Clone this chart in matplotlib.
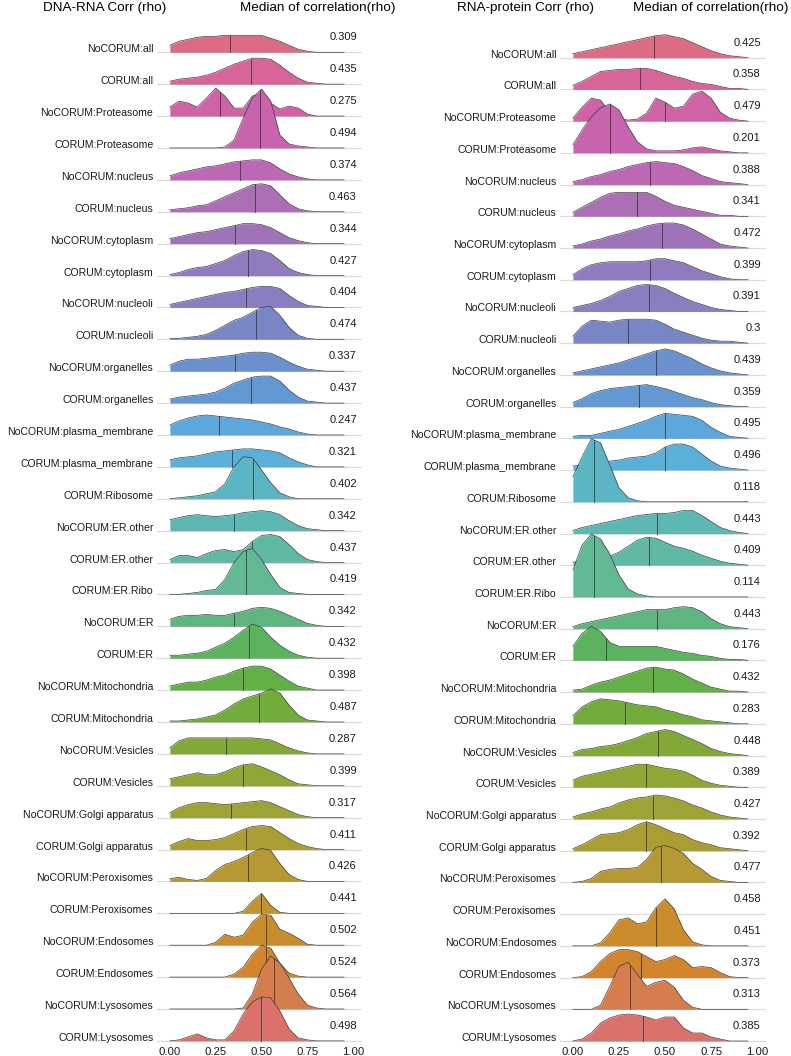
import numpy as np
import matplotlib.pyplot as plt

plt.rcParams['font.family'] = ['Liberation Sans', 'DejaVu Sans']

rows = ['NoCORUM:all', 'CORUM:all', 'NoCORUM:Proteasome', 'CORUM:Proteasome',
        'NoCORUM:nucleus', 'CORUM:nucleus', 'NoCORUM:cytoplasm', 'CORUM:cytoplasm',
        'NoCORUM:nucleoli', 'CORUM:nucleoli', 'NoCORUM:organelles', 'CORUM:organelles',
        'NoCORUM:plasma_membrane', 'CORUM:plasma_membrane', 'CORUM:Ribosome',
        'NoCORUM:ER.other', 'CORUM:ER.other', 'CORUM:ER.Ribo', 'NoCORUM:ER', 'CORUM:ER',
        'NoCORUM:Mitochondria', 'CORUM:Mitochondria', 'NoCORUM:Vesicles', 'CORUM:Vesicles',
        'NoCORUM:Golgi apparatus', 'CORUM:Golgi apparatus', 'NoCORUM:Peroxisomes',
        'CORUM:Peroxisomes', 'NoCORUM:Endosomes', 'CORUM:Endosomes',
        'NoCORUM:Lysosomes', 'CORUM:Lysosomes']

rho = np.round(np.arange(21) * 0.05, 2)

dna_rna_dens = [
    [7, 11, 13, 15, 16, 16, 17, 17, 17, 17, 17, 14, 11, 7, 3, 1],
    [3, 5, 6, 7, 9, 12, 16, 20, 23, 26, 26, 25, 19, 12, 6, 2, 1],
    [9, 15, 13, 9, 18, 28, 20, 8, 8, 20, 23, 13, 7, 10, 8, 2],
    [0, 0, 0, 0, 0, 0, 1, 8, 30, 50, 59, 47, 13, 4, 2, 1],
    [4, 7, 9, 11, 13, 14, 16, 18, 19, 20, 20, 17, 11, 6, 3, 1],
    [2, 3, 4, 6, 7, 11, 15, 19, 23, 27, 28, 26, 17, 8, 3, 1],
    [5, 7, 9, 11, 12, 14, 16, 18, 20, 20, 19, 16, 11, 6, 3, 1],
    [1, 3, 6, 8, 9, 12, 15, 20, 24, 26, 25, 22, 15, 7, 3, 1],
    [3, 5, 7, 9, 11, 13, 15, 16, 18, 20, 21, 21, 19, 12, 6, 2, 1],
    [1, 1, 2, 3, 5, 9, 14, 19, 22, 27, 32, 33, 24, 12, 4, 1],
    [6, 10, 12, 12, 13, 14, 15, 16, 18, 19, 19, 18, 14, 9, 5, 2, 1],
    [4, 6, 7, 8, 9, 11, 15, 20, 23, 26, 27, 27, 22, 13, 6, 2, 1],
    [10, 14, 17, 19, 20, 19, 18, 17, 16, 15, 13, 11, 8, 6, 3, 1],
    [7, 9, 10, 11, 13, 15, 16, 17, 18, 18, 17, 16, 14, 9, 5, 2],
    [0, 1, 2, 3, 5, 7, 15, 32, 42, 41, 29, 16, 6, 2],
    [11, 13, 15, 16, 15, 14, 15, 16, 18, 19, 20, 19, 16, 10, 5, 2, 1],
    [3, 7, 7, 5, 9, 12, 13, 11, 13, 21, 27, 28, 26, 18, 9, 3, 1],
    [0, 0, 1, 2, 4, 5, 15, 32, 43, 46, 35, 20, 7, 2, 1],
    [7, 10, 11, 11, 12, 11, 11, 13, 15, 18, 19, 18, 15, 11, 7, 3, 1],
    [3, 3, 4, 5, 7, 11, 15, 21, 28, 34, 31, 21, 13, 7, 3, 1],
    [4, 6, 8, 8, 10, 13, 15, 19, 22, 24, 24, 21, 15, 9, 4, 2],
    [1, 1, 2, 3, 5, 7, 12, 18, 23, 26, 29, 33, 29, 17, 7, 2, 1],
    [6, 13, 16, 16, 16, 16, 16, 16, 16, 16, 15, 14, 10, 6, 3, 1],
    [7, 9, 11, 13, 11, 11, 14, 18, 21, 22, 19, 15, 11, 6, 2, 1],
    [5, 10, 13, 15, 15, 14, 13, 14, 15, 16, 17, 15, 11, 7, 3, 1],
    [4, 8, 11, 9, 9, 10, 12, 16, 20, 23, 24, 23, 17, 11, 6, 3, 1],
    [3, 4, 2, 1, 3, 11, 17, 20, 24, 29, 33, 31, 18, 7, 2],
    [0, 0, 0, 0, 0, 0, 0, 0, 2, 12, 20, 8, 1],
    [0, 0, 0, 0, 0, 3, 11, 8, 10, 23, 31, 30, 16, 12, 7, 1],
    [0, 0, 0, 0, 0, 0, 0, 3, 10, 23, 32, 29, 14, 4, 1],
    [0, 0, 0, 0, 0, 0, 0, 0, 1, 15, 40, 53, 46, 31, 15, 4, 1],
    [0, 1, 4, 7, 3, 1, 1, 10, 27, 39, 44, 43, 30, 12, 3, 1],
]

rna_prot_dens = [
    [4, 6, 8, 10, 12, 14, 16, 18, 20, 22, 23, 21, 19, 15, 11, 7, 4, 2, 1],
    [4, 8, 13, 18, 19, 20, 20, 21, 21, 19, 16, 13, 11, 8, 6, 5, 3, 1, 1],
    [3, 14, 23, 21, 9, 3, 1, 2, 8, 23, 19, 13, 15, 27, 30, 23, 9, 3, 1],
    [8, 23, 36, 45, 49, 43, 26, 11, 4, 2, 2, 2, 3, 5, 6, 4, 2, 1],
    [3, 5, 8, 10, 13, 15, 18, 20, 22, 23, 22, 21, 18, 14, 9, 6, 3, 2, 1],
    [4, 9, 14, 19, 23, 24, 24, 24, 24, 20, 15, 11, 9, 7, 5, 3, 1, 1],
    [2, 4, 7, 9, 12, 14, 17, 19, 22, 24, 25, 25, 23, 19, 14, 9, 4, 2, 1],
    [5, 11, 15, 17, 18, 18, 18, 18, 19, 21, 21, 19, 17, 13, 9, 6, 3, 1],
    [4, 6, 8, 11, 15, 20, 23, 26, 27, 26, 23, 18, 14, 10, 7, 4, 2, 1],
    [7, 17, 23, 22, 21, 23, 24, 24, 24, 23, 19, 14, 11, 8, 5, 3, 2, 2, 1],
    [2, 4, 6, 8, 10, 12, 15, 18, 21, 24, 26, 24, 20, 16, 11, 7, 4, 2, 1],
    [4, 8, 13, 16, 18, 19, 20, 21, 22, 20, 18, 15, 12, 9, 7, 4, 2, 1],
    [2, 3, 3, 5, 7, 9, 12, 15, 18, 22, 25, 24, 23, 22, 18, 11, 6, 2, 1],
    [4, 5, 6, 7, 9, 10, 12, 13, 14, 17, 23, 26, 26, 23, 16, 9, 4, 2, 1],
    [25, 45, 63, 59, 37, 14, 4, 1],
    [3, 6, 8, 10, 12, 14, 16, 18, 19, 20, 20, 21, 23, 23, 18, 12, 6, 3, 1],
    [3, 4, 6, 7, 9, 13, 19, 25, 28, 27, 23, 19, 17, 14, 10, 7, 4, 2, 1],
    [27, 52, 63, 58, 43, 22, 8, 3, 1],
    [2, 5, 7, 9, 11, 13, 15, 17, 19, 19, 19, 21, 22, 21, 17, 10, 5, 2, 1],
    [14, 27, 34, 29, 18, 14, 14, 14, 14, 14, 12, 10, 8, 7, 5, 4, 2, 1, 1],
    [2, 3, 7, 10, 12, 15, 18, 21, 24, 25, 23, 22, 18, 13, 9, 5, 3, 1, 1],
    [8, 17, 22, 25, 24, 23, 21, 19, 18, 17, 14, 12, 9, 7, 4, 3, 2, 1],
    [3, 6, 7, 9, 10, 12, 15, 18, 22, 24, 26, 24, 20, 16, 12, 7, 4, 2, 1],
    [7, 11, 13, 15, 17, 19, 21, 23, 23, 21, 19, 18, 16, 12, 7, 4, 2, 1],
    [2, 5, 7, 10, 12, 16, 19, 21, 22, 24, 23, 21, 18, 14, 11, 7, 4, 2, 1],
    [2, 6, 11, 16, 17, 18, 21, 26, 29, 26, 22, 18, 16, 11, 8, 6, 3, 2, 1],
    [0, 1, 4, 11, 13, 14, 14, 15, 23, 35, 37, 34, 29, 19, 13, 6, 2, 1],
    None,
    [0, 0, 0, 3, 13, 26, 28, 22, 24, 38, 47, 37, 16, 4, 1],
    [0, 1, 6, 16, 24, 28, 28, 26, 21, 16, 18, 22, 18, 10, 11, 10, 5, 1],
    [0, 0, 0, 4, 23, 43, 47, 35, 23, 27, 29, 22, 9, 2],
    [0, 2, 8, 18, 23, 26, 27, 26, 24, 21, 24, 24, 13, 8, 8, 4, 2],
]

# where the median line sits on each ridge
dna_rna_medline = [0.33, 0.44, 0.273, 0.494, 0.384, 0.464, 0.356, 0.426, 0.413, 0.471,
                   0.358, 0.44, 0.269, 0.34, 0.455, 0.349, 0.449, 0.418, 0.349, 0.433,
                   0.398, 0.487, 0.309, 0.40, 0.336, 0.413, 0.424, 0.496, 0.524, 0.524,
                   0.566, 0.496]
rna_prot_medline = [0.442, 0.364, 0.502, 0.20, 0.418, 0.346, 0.482, 0.418, 0.415, 0.30,
                    0.45, 0.36, 0.50, 0.50, 0.116, 0.455, 0.415, 0.116, 0.455, 0.181,
                    0.436, 0.284, 0.46, 0.395, 0.436, 0.395, 0.477, None, 0.45, 0.372,
                    0.311, 0.382]

dna_rna_median = ['0.309', '0.435', '0.275', '0.494', '0.374', '0.463', '0.344', '0.427',
                  '0.404', '0.474', '0.337', '0.437', '0.247', '0.321', '0.402', '0.342',
                  '0.437', '0.419', '0.342', '0.432', '0.398', '0.487', '0.287', '0.399',
                  '0.317', '0.411', '0.426', '0.441', '0.502', '0.524', '0.564', '0.498']
rna_prot_median = ['0.425', '0.358', '0.479', '0.201', '0.388', '0.341', '0.472', '0.399',
                   '0.391', '0.3', '0.439', '0.359', '0.495', '0.496', '0.118', '0.443',
                   '0.409', '0.114', '0.443', '0.176', '0.432', '0.283', '0.448', '0.389',
                   '0.427', '0.392', '0.477', '0.458', '0.451', '0.373', '0.313', '0.385']

xticks = [0, 0.25, 0.5, 0.75, 1.0]
xticklabels = ['0.00', '0.25', '0.50', '0.75', '1.00']

# fill colours, top row to bottom row
colors = ['#DC6C86', '#D8659A', '#D062A6', '#C864AE', '#BC68B4', '#AC6FB6', '#9F73B8',
          '#8F7BBE', '#8A7EC1', '#7886C6', '#6A90CE', '#6299D3', '#5CA7DC', '#5AB0D9',
          '#5BB5C4', '#5DB8B4', '#5FB9A5', '#63B994', '#5EB67E', '#5BB45D', '#63B046',
          '#72AC3B', '#82A937', '#90A735', '#9DA334', '#AA9E33', '#B69934', '#C29331',
          '#CB8C2E', '#D2852D', '#D67D4D', '#DA716A']

n = len(rows)
W, H = 791, 1056
fig = plt.figure(figsize=(W / 100, H / 100), dpi=100)
top_px, bot_px = 15, 1045


def panel(left_px, width_px, first_base, spacing, dens, medline, medlab, title, title_x, med_x):
    ax = fig.add_axes([left_px / W, 1 - bot_px / H, width_px / W, (bot_px - top_px) / H])
    last_base = first_base + (n - 1) * spacing
    ax.set_ylim(-(bot_px - last_base) / spacing, n - 1 + (first_base - top_px) / spacing)
    ax.set_xlim(-0.07, 1.048)
    for s in ax.spines.values():
        s.set_visible(False)
    ax.set_yticks([])
    ax.set_xticks(xticks)
    ax.set_xticklabels(xticklabels, fontsize=8.2)
    ax.tick_params(axis='x', length=0, pad=1.5, colors='#1a1a1a')

    for i, name in enumerate(rows):
        y0 = n - 1 - i
        z = 2 + i
        ax.axhline(y0, color='#dcdcdc', lw=0.9, zorder=1)
        if dens[i] is not None:
            h = np.zeros(len(rho))
            h[:len(dens[i])] = dens[i]
            h = h / spacing
            ax.fill_between(rho, y0, y0 + h, color=colors[i], lw=0, zorder=z)
            ax.plot(rho[rho < 0.98], (y0 + h)[rho < 0.98], color='#3c3c3c', lw=0.5,
                    zorder=z + 0.1)
            m = medline[i]
            ax.plot([m, m], [y0, y0 + np.interp(m, rho, h)], color='#3c3c3c', lw=0.6,
                    zorder=z + 0.1)
        ax.text(-0.09, y0, name, ha='right', va='baseline', fontsize=7.6,
                color='#1a1a1a', clip_on=False)
        ax.text(1.02, y0 + 12 / spacing, medlab[i], ha='right', va='baseline',
                fontsize=8, color='#1a1a1a', zorder=100)

    fig.text(title_x / W, 1 - 11 / H, title, fontsize=9.7, va='baseline')
    fig.text(med_x / W, 1 - 11 / H, 'Median of correlation(rho)', fontsize=9.7,
             va='baseline')
    return ax


panel(157, 205, 52.3, 31.89, dna_rna_dens, dna_rna_medline, dna_rna_median,
      'DNA-RNA Corr (rho)', 43, 240)
panel(560, 206, 57.7, 31.72, rna_prot_dens, rna_prot_medline, rna_prot_median,
      'RNA-protein Corr (rho)', 457, 633)

fig.savefig('out.png', dpi=100)
